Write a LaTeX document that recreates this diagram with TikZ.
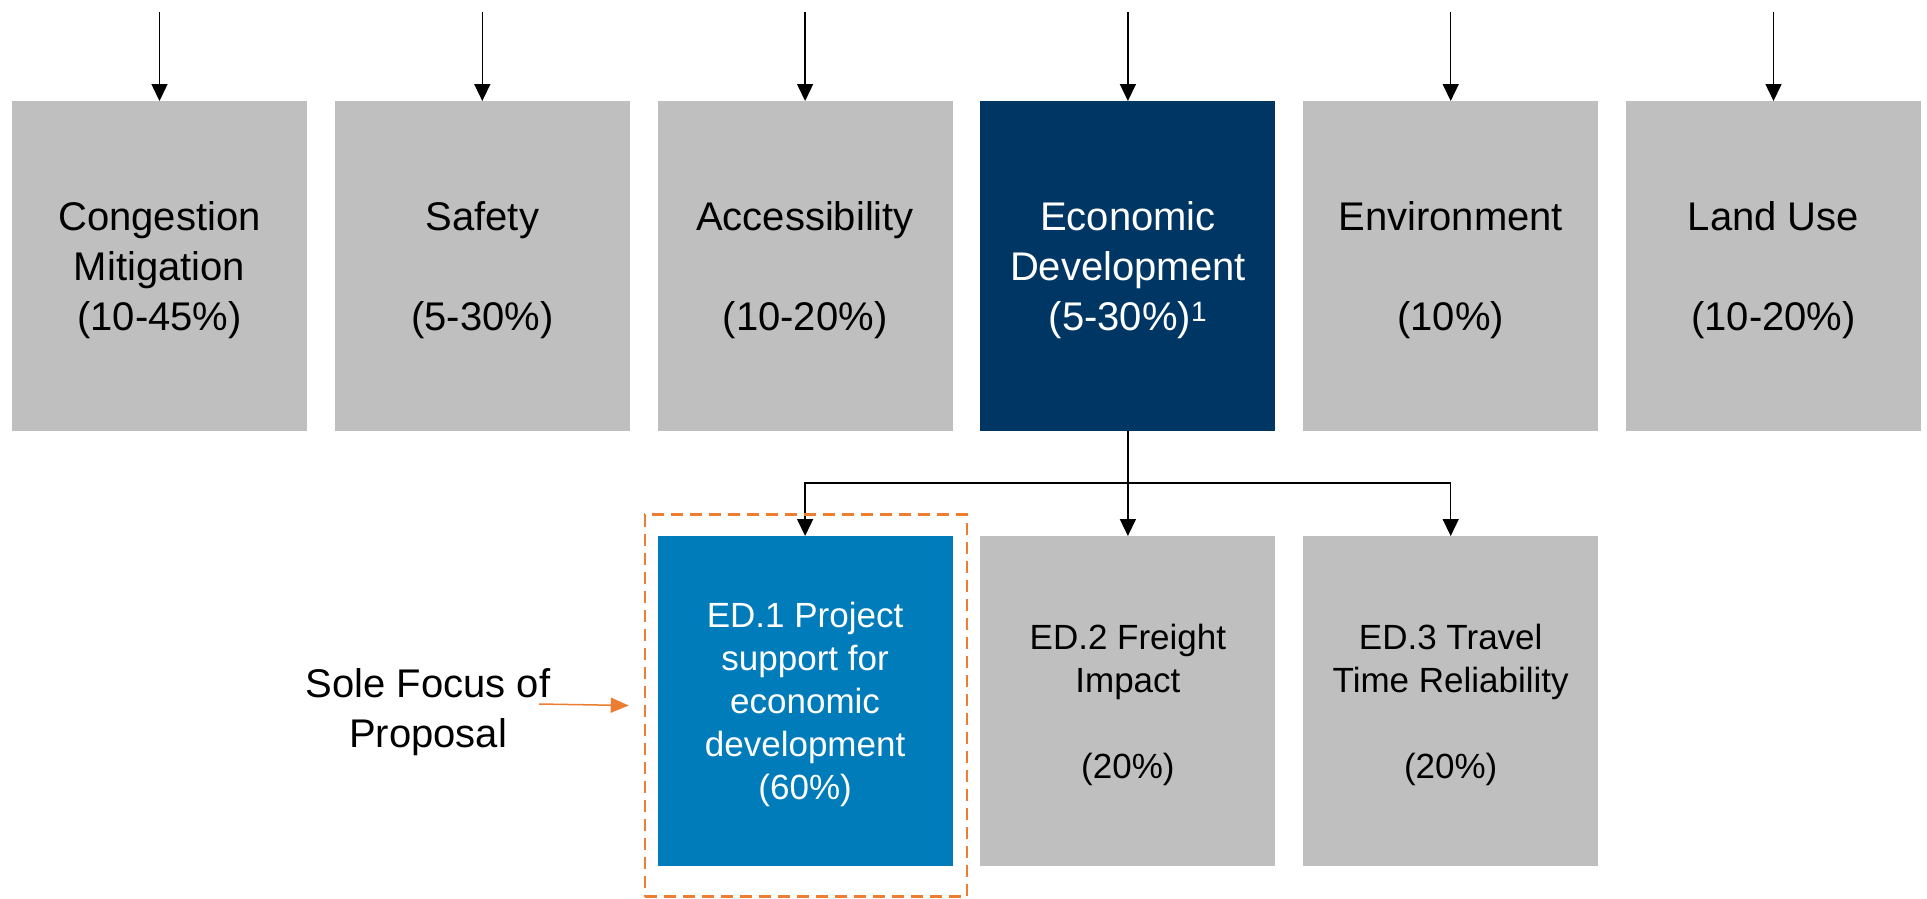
\documentclass[tikz,border=0pt]{standalone}
\usepackage{fontspec}
\setmainfont{Liberation Sans}
\usetikzlibrary{positioning,arrows.meta}
\definecolor{boxgray}{HTML}{BFBFBF}
\definecolor{econnavy}{HTML}{003663}
\definecolor{edblue}{HTML}{007CBA}
\definecolor{focusorange}{HTML}{ED7D31}
\tikzset{
  crit/.style={fill=boxgray, minimum width=295pt, minimum height=330pt, inner sep=0pt,
    outer sep=0pt, align=center, text depth=-3pt, font=\fontsize{40}{50}\selectfont},
  sub/.style={crit, text depth=-2pt, font=\fontsize{35}{43}\selectfont},
  down/.style={-{Triangle[length=17pt,width=16pt]}, line width=1.5pt},
  focus/.style={draw=focusorange, line width=2.5pt, dash pattern=on 12pt off 7pt,
    minimum width=322pt, minimum height=382pt, inner sep=0pt},
  focusarr/.style={-{Triangle[length=18pt,width=15pt]}, draw=focusorange, line width=1.5pt},
}
\begin{document}
\begin{tikzpicture}[x=1pt, y=-1pt, node distance=27.8pt]
    \useasboundingbox (0,0) rectangle (1927,898);
    % criteria row
    \node[crit] (cong) at (159.5,266) {Congestion\\Mitigation\\(10-45\%)};
    \node[crit, right=of cong] (safety) {Safety\\[50pt](5-30\%)};
    \node[crit, right=of safety] (access) {Accessibility\\[50pt](10-20\%)};
    \node[crit, right=of access, fill=econnavy, text=white] (econ) {Economic\\Development\\(5-30\%)\textsuperscript{1}};
    \node[crit, right=of econ] (env) {Environment\\[50pt](10\%)};
    \node[crit, right=of env] (land) {Land Use\\[50pt](10-20\%)};
    \coordinate[above=89pt of cong.north] (cong top);
    \coordinate[above=89pt of safety.north] (safety top);
    \coordinate[above=89pt of access.north] (access top);
    \coordinate[above=89pt of econ.north] (econ top);
    \coordinate[above=89pt of env.north] (env top);
    \coordinate[above=89pt of land.north] (land top);
    \draw[down] (cong top) -- (cong);
    \draw[down] (safety top) -- (safety);
    \draw[down] (access top) -- (access);
    \draw[down] (econ top) -- (econ);
    \draw[down] (env top) -- (env);
    \draw[down] (land top) -- (land);
    % economic development sub-criteria
    \node[sub, below=105pt of econ] (ed2) {ED.2 Freight\\Impact\\[43pt](20\%)};
    \node[sub, left=of ed2, fill=edblue, text=white] (ed1) {ED.1 Project\\support for\\economic\\development\\(60\%)};
    \node[sub, right=of ed2] (ed3) {ED.3 Travel\\Time Reliability\\[43pt](20\%)};
    \draw[down] (econ) -- (ed2);
    \draw[down] (econ.south) -- ++(0,52) -| (ed1.north);
    \draw[down] (econ.south) -- ++(0,52) -| (ed3.north);
    % focus
    \node[focus] (focus) at (806,705.5) {};
    \node[align=center, text depth=0pt, font=\fontsize{40}{50}\selectfont] (sole) at (428,708) {Sole Focus of\\Proposal};
    \coordinate (sole arr) at (539,704);
    \draw[focusarr] (sole arr) -- ([xshift=-15pt]focus.west);
\end{tikzpicture}
\end{document}
